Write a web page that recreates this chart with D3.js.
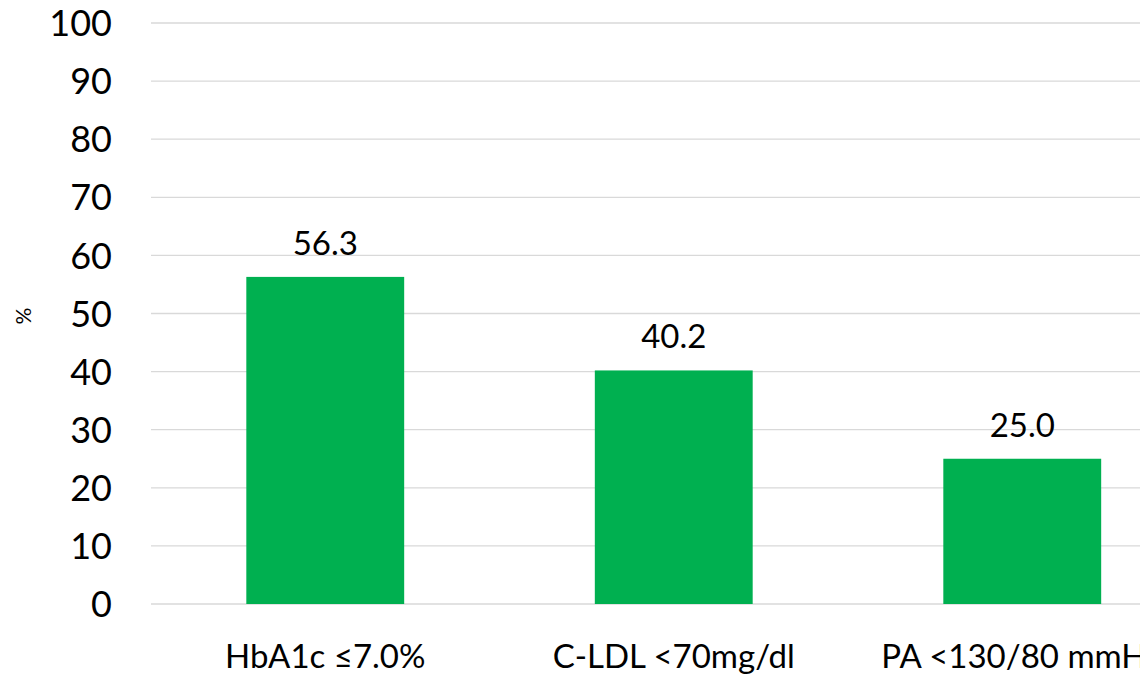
<!DOCTYPE html>
<html>
<head>
<meta charset="utf-8">
<script src="https://cdn.jsdelivr.net/npm/d3@7"></script>
<style>
  html, body { margin: 0; padding: 0; background: #fff; }
  svg { display: block; }
  text { font-family: Lato, "Open Sans", sans-serif; fill: #000; }
</style>
</head>
<body>
<svg id="chart" width="1140" height="674"></svg>
<script>
// Share of patients reaching each target (%)
const categories = ["HbA1c ≤7.0%", "C-LDL <70mg/dl", "PA <130/80 mmHg"];
const values = [56.3, 40.2, 25.0];
const yTicks = [0, 10, 20, 30, 40, 50, 60, 70, 80, 90, 100];
const yLabel = "%";

const svg = d3.select("#chart");
const W = 1140, H = 674;
const FONT = 33;
const TICK_FONT = 36;

// plot area (extends past the right edge, so the last category is clipped)
const left = 151, step = 348.5;
const x = d3.scaleBand()
  .domain(categories)
  .range([left, left + step * categories.length])
  .paddingInner(0.547)
  .paddingOuter(0.2735);

const y = d3.scaleLinear().domain([0, 100]).range([604, 23]);

// gridlines
svg.append("g")
  .selectAll("line")
  .data(yTicks)
  .join("line")
  .attr("x1", left)
  .attr("x2", W)
  .attr("y1", d => y(d))
  .attr("y2", d => y(d))
  .attr("stroke", "#d9d9d9")
  .attr("stroke-width", 1.3);

// y-axis tick labels
const yAxis = d3.axisLeft(y).tickValues(yTicks).tickSize(0).tickPadding(0);
const yg = svg.append("g")
  .attr("transform", `translate(112,0)`)
  .call(yAxis);
yg.select(".domain").remove();
yg.selectAll("text")
  .attr("font-size", TICK_FONT)
  .attr("font-family", "Lato, 'Open Sans', sans-serif")
  .attr("fill", "#000")
  .attr("dy", "0.35em");

// axis title
svg.append("text")
  .attr("transform", `translate(24,316) rotate(-90)`)
  .attr("text-anchor", "middle")
  .attr("dy", "0.35em")
  .attr("font-size", 21)
  .text(yLabel);

// bars
svg.append("g")
  .selectAll("rect")
  .data(values)
  .join("rect")
  .attr("x", (d, i) => x(categories[i]))
  .attr("width", x.bandwidth())
  .attr("y", d => y(d))
  .attr("height", d => y(0) - y(d))
  .attr("fill", "#00b050");

// value labels
svg.append("g")
  .selectAll("text")
  .data(values)
  .join("text")
  .attr("x", (d, i) => x(categories[i]) + x.bandwidth() / 2)
  .attr("y", d => y(d) - 22)
  .attr("text-anchor", "middle")
  .attr("font-size", FONT)
  .text(d => d.toFixed(1));

// category labels
const xAxis = d3.axisBottom(x).tickSize(0).tickPadding(0);
const xg = svg.append("g")
  .attr("transform", `translate(0,604)`)
  .call(xAxis);
xg.select(".domain").remove();
xg.selectAll("text")
  .attr("font-size", FONT)
  .attr("font-family", "Lato, 'Open Sans', sans-serif")
  .attr("fill", "#000")
  .attr("dy", null)
  .attr("y", 64);
</script>
</body>
</html>
